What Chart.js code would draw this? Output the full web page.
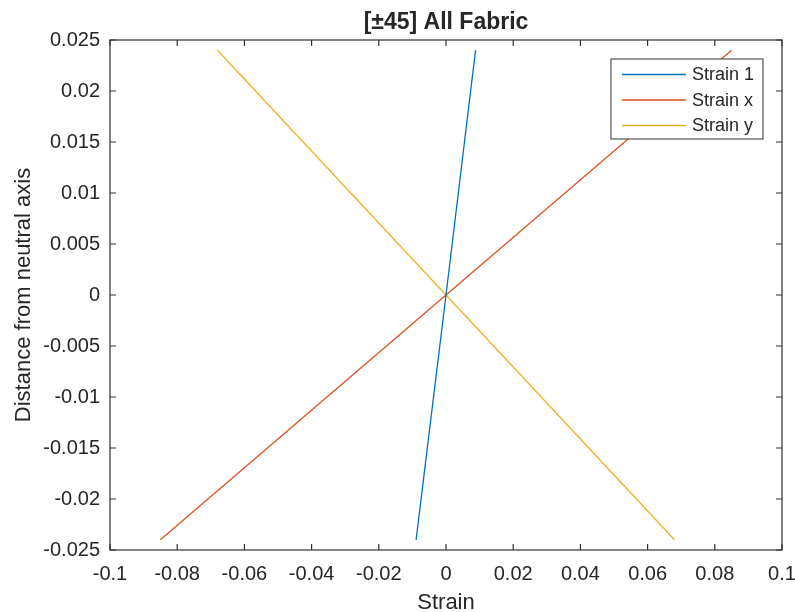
<!DOCTYPE html>
<html>
<head>
<meta charset="utf-8">
<script src="https://cdn.jsdelivr.net/npm/chart.js@4/dist/chart.umd.min.js"></script>
<style>
  body { margin: 0; background: #fff; }
</style>
</head>
<body>
<canvas id="myChart" width="795" height="612"></canvas>
<script>
// values
const seriesNames = ["Strain 1", "Strain x", "Strain y"];
const distance = [-0.024, 0, 0.024];
const strain1 = [-0.0089, 0, 0.0088];
const strainX = [-0.085, 0, 0.085];
const strainY = [0.068, 0, -0.068];
const xTicks = [-0.1, -0.08, -0.06, -0.04, -0.02, 0, 0.02, 0.04, 0.06, 0.08, 0.1];
const yTicks = [-0.025, -0.02, -0.015, -0.01, -0.005, 0, 0.005, 0.01, 0.015, 0.02, 0.025];
const lineColors = ["#0072BD", "#D95319", "#EDB120"];

const FONT = "'Liberation Sans', Arial, Helvetica, sans-serif";
const TEXT = "#262626";

function toPoints(xs) {
  return xs.map((x, i) => ({ x: x, y: distance[i] }));
}

function fmt(v) {
  return String(Number(v.toFixed(4)));
}

// MATLAB style box, inward ticks and legend
const boxPlugin = {
  id: "boxPlugin",
  afterDraw(chart) {
    const ctx = chart.ctx;
    const a = chart.chartArea;
    const xs = chart.scales.x;
    const ys = chart.scales.y;
    const tl = 6;
    ctx.save();
    ctx.strokeStyle = "#333";
    ctx.lineWidth = 1.2;
    ctx.strokeRect(a.left, a.top, a.right - a.left, a.bottom - a.top);
    ctx.beginPath();
    xTicks.forEach((v) => {
      const px = xs.getPixelForValue(v);
      ctx.moveTo(px, a.bottom);
      ctx.lineTo(px, a.bottom - tl);
      ctx.moveTo(px, a.top);
      ctx.lineTo(px, a.top + tl);
    });
    yTicks.forEach((v) => {
      const py = ys.getPixelForValue(v);
      ctx.moveTo(a.left, py);
      ctx.lineTo(a.left + tl, py);
      ctx.moveTo(a.right, py);
      ctx.lineTo(a.right - tl, py);
    });
    ctx.stroke();

    // legend
    ctx.font = "18px " + FONT;
    let maxW = 0;
    chart.data.datasets.forEach((d) => {
      maxW = Math.max(maxW, ctx.measureText(d.label).width);
    });
    const padL = 11, lineLen = 64, gap = 6, padR = 9, rowH = 25.5;
    const w = padL + lineLen + gap + maxW + padR;
    const h = 80;
    const bx = a.right - 19 - w;
    const by = a.top + 19;
    ctx.fillStyle = "#fff";
    ctx.fillRect(bx, by, w, h);
    ctx.strokeStyle = "#333";
    ctx.lineWidth = 1;
    ctx.strokeRect(bx, by, w, h);
    ctx.textBaseline = "middle";
    ctx.textAlign = "left";
    chart.data.datasets.forEach((d, i) => {
      const cy = by + 15.5 + i * rowH;
      ctx.strokeStyle = d.borderColor;
      ctx.lineWidth = 1.3;
      ctx.beginPath();
      ctx.moveTo(bx + padL, cy);
      ctx.lineTo(bx + padL + lineLen, cy);
      ctx.stroke();
      ctx.fillStyle = TEXT;
      ctx.fillText(d.label, bx + padL + lineLen + gap, cy + 1);
    });
    ctx.restore();
  },
};

const ctx = document.getElementById("myChart").getContext("2d");
const chart = new Chart(ctx, {
  type: "scatter",
  data: {
    datasets: [strain1, strainX, strainY].map((xs, i) => ({
      label: seriesNames[i],
      data: toPoints(xs),
      showLine: true,
      borderColor: lineColors[i],
      backgroundColor: lineColors[i],
      borderWidth: 1.3,
      pointRadius: 0,
    })),
  },
  options: {
    responsive: false,
    animation: false,
    layout: { padding: { left: 0, right: 13, top: 0, bottom: 0 } },
    plugins: {
      legend: { display: false },
      tooltip: { enabled: false },
      title: {
        display: true,
        fullSize: false,
        text: "[±45] All Fabric",
        color: TEXT,
        font: { family: FONT, size: 23, weight: "bold" },
        padding: { top: 8.5, bottom: 3.9 },
      },
    },
    scales: {
      x: {
        type: "linear",
        min: -0.1,
        max: 0.1,
        grid: { display: false, drawTicks: false },
        border: { display: false },
        afterBuildTicks: (s) => { s.ticks = xTicks.map((v) => ({ value: v })); },
        afterFit: (s) => { s.height = 62; s.paddingLeft = 0; s.paddingRight = 0; },
        ticks: {
          color: TEXT,
          font: { family: FONT, size: 20 },
          padding: 12,
          maxRotation: 0,
          autoSkip: false,
          callback: (v) => fmt(v),
        },
        title: {
          display: true,
          text: "Strain",
          color: TEXT,
          font: { family: FONT, size: 22, lineHeight: 1 },
          padding: { top: 0, bottom: -2 },
        },
      },
      y: {
        type: "linear",
        min: -0.025,
        max: 0.025,
        grid: { display: false, drawTicks: false },
        border: { display: false },
        afterBuildTicks: (s) => { s.ticks = yTicks.map((v) => ({ value: v })); },
        afterFit: (s) => { s.width = 110; s.paddingTop = 0; s.paddingBottom = 0; },
        ticks: {
          color: TEXT,
          font: { family: FONT, size: 20 },
          padding: 10,
          autoSkip: false,
          callback: (v) => fmt(v),
        },
        title: {
          display: true,
          text: "Distance from neutral axis",
          color: TEXT,
          font: { family: FONT, size: 22 },
          padding: { top: 11, bottom: 0 },
        },
      },
    },
  },
  plugins: [boxPlugin],
});
</script>
</body>
</html>
